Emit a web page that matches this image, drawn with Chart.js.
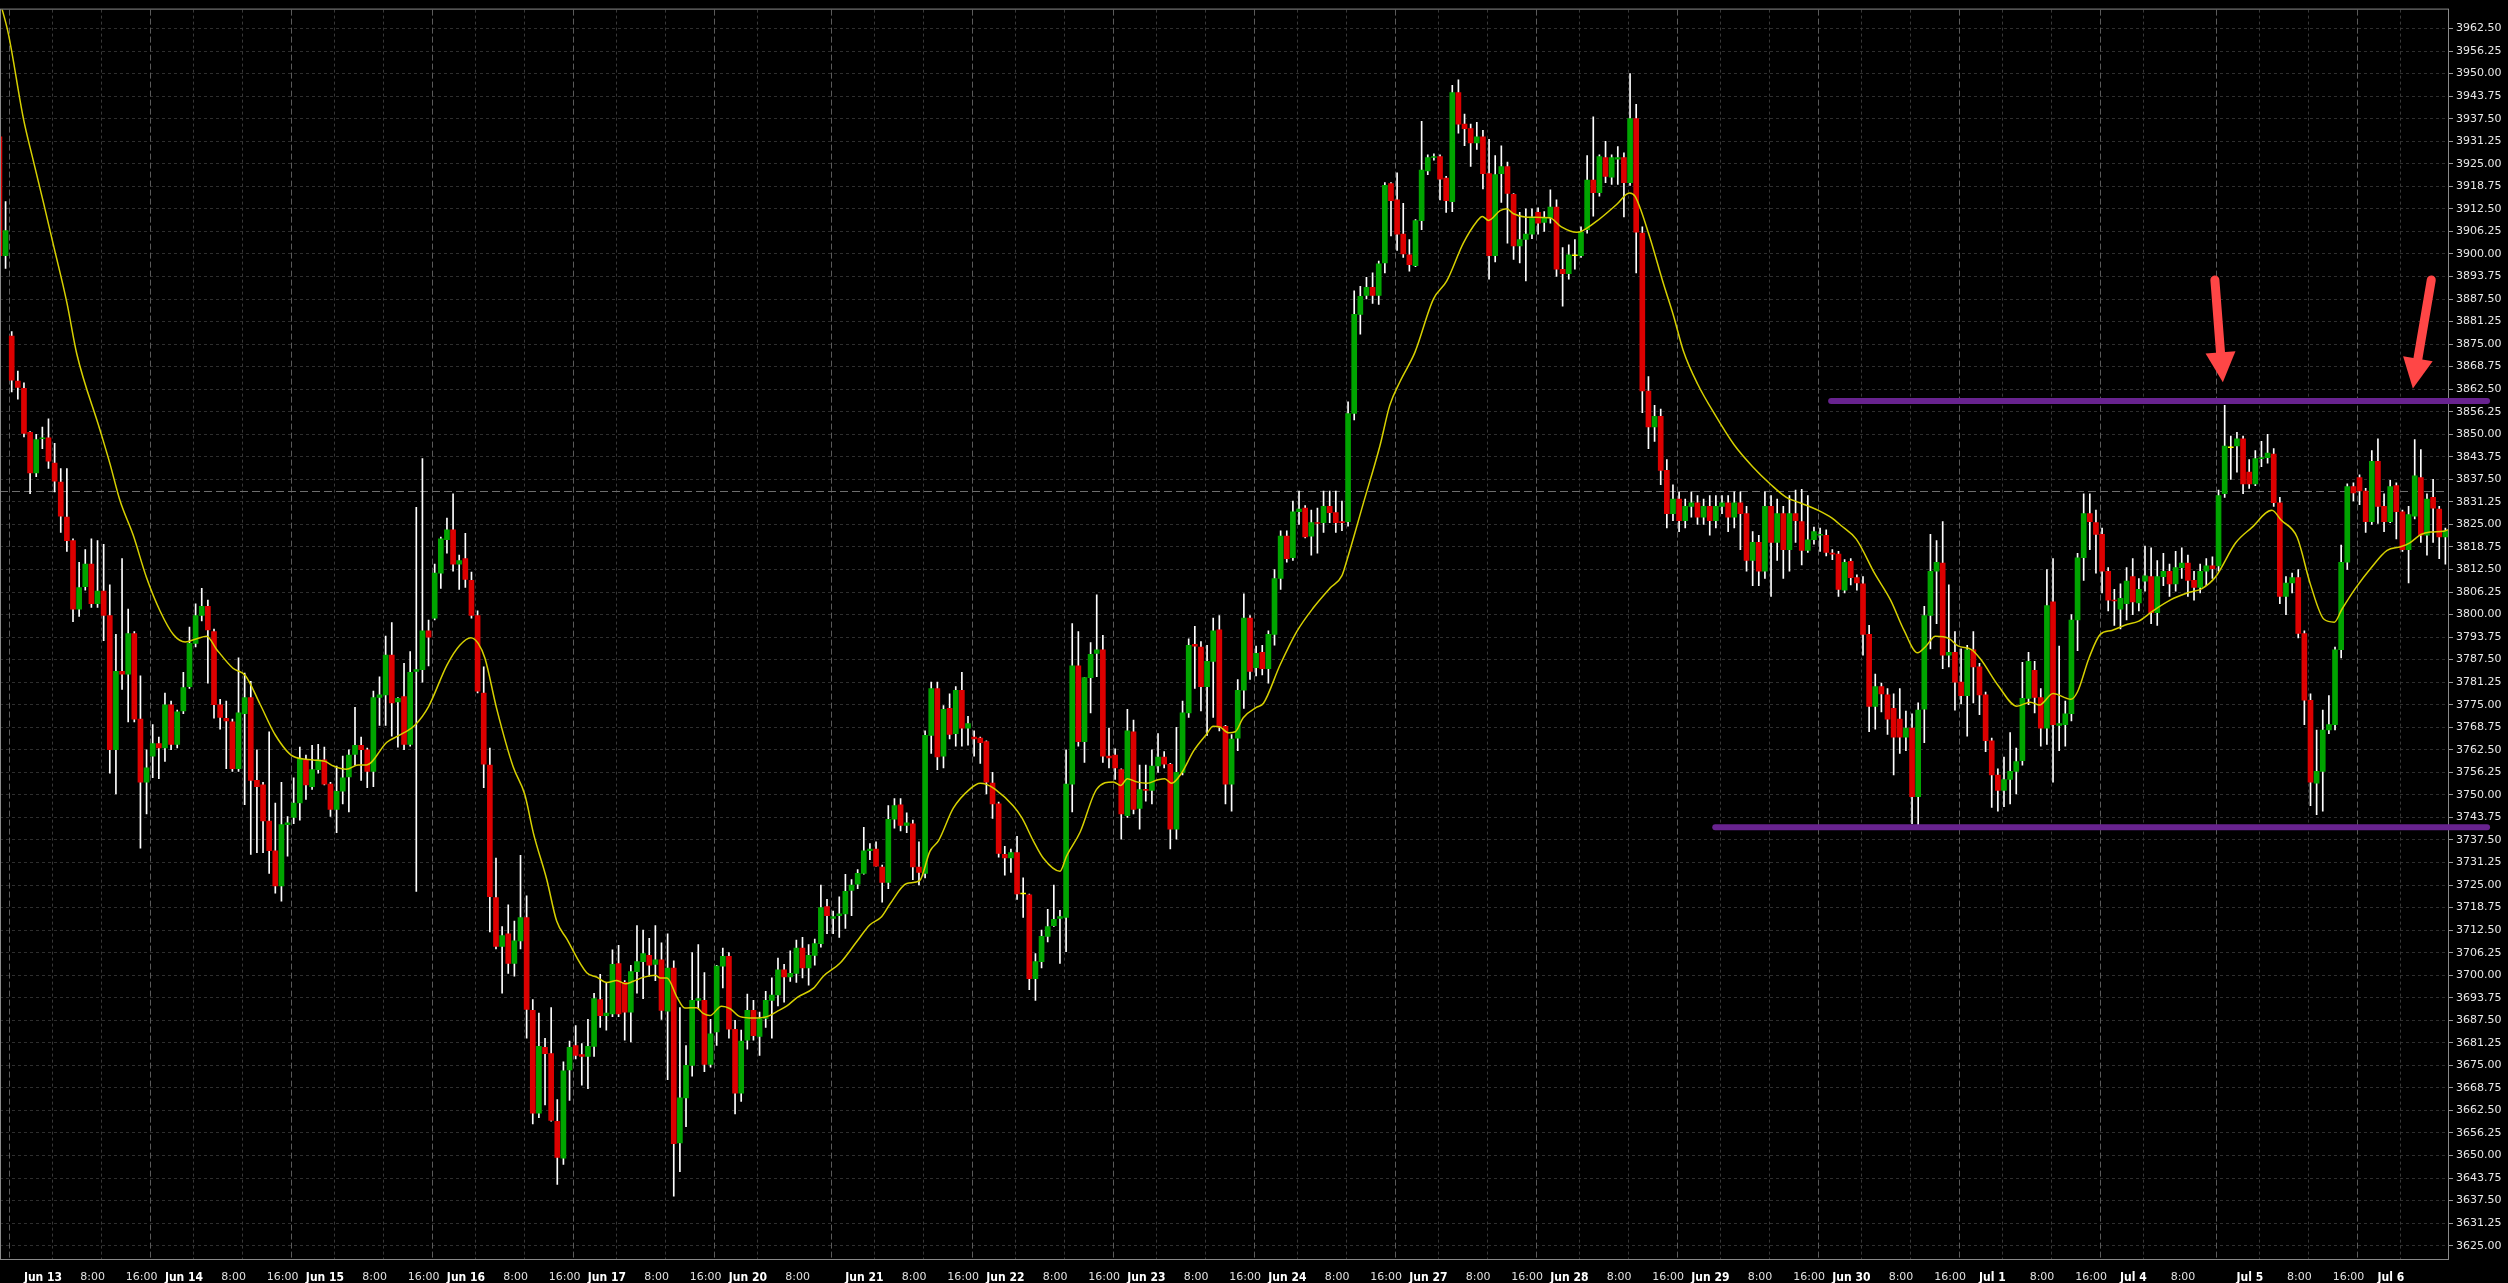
<!DOCTYPE html>
<html>
<head>
<meta charset="utf-8">
<title>ES H1</title>
<script src="https://cdn.jsdelivr.net/npm/chart.js@4.4.1/dist/chart.umd.min.js"></script>
<style>
  html, body { margin: 0; padding: 0; background: #000; }
  #wrap { width: 2508px; height: 1283px; }
</style>
</head>
<body>
<div id="wrap"><canvas id="chart" width="2508" height="1283"></canvas></div>
<script>
// hourly bars, 2 bars of Jun 10 then one session per day
const leadBars = 2;
const sessionNames = ['Jun 13', 'Jun 14', 'Jun 15', 'Jun 16', 'Jun 17', 'Jun 20', 'Jun 21', 'Jun 22', 'Jun 23',
  'Jun 24', 'Jun 27', 'Jun 28', 'Jun 29', 'Jun 30', 'Jul 1', 'Jul 4', 'Jul 5', 'Jul 6'];
const sessionBars = [23, 23, 23, 23, 23, 19, 23, 23, 23, 23, 23, 23, 23, 23, 23, 19, 23, 15];
const hourNames = ['8:00', '16:00'];
const hourOffsets = [7, 15];

// OHLC, one value per bar
const openPrices = [
  3932.5, 3899.5, 3877.25, 3864.75, 3862.75, 3850.5, 3839.25, 3848.75, 3849, 3842,
  3836.75, 3827, 3820.5, 3801.5, 3807.75, 3814, 3803, 3806.5, 3799.75, 3762.5,
  3784.25, 3783.5, 3794.75, 3771, 3753.5, 3760.75, 3764.25, 3763, 3775, 3764,
  3773.25, 3780, 3792, 3799.75, 3802.25, 3795.25, 3775, 3771.25, 3770.25, 3757.25,
  3772.5, 3777, 3754, 3752.75, 3742.75, 3734.5, 3724.75, 3741.75, 3743.75, 3747.75,
  3759.75, 3752.25, 3757, 3759.75, 3753, 3746, 3751, 3755, 3761.25, 3763.75,
  3762.5, 3756.5, 3777, 3777.75, 3788.75, 3775.75, 3777.25, 3764, 3784.25, 3784.75,
  3795.5, 3799, 3811.5, 3820.75, 3823.5, 3814, 3815.5, 3809.5, 3799.75, 3778.25,
  3758.25, 3721.5, 3708, 3711.5, 3703.25, 3709.5, 3716, 3690.25, 3661.75, 3680,
  3678.25, 3659.5, 3649.25, 3673.75, 3680.5, 3678, 3677.5, 3680.25, 3693.25, 3688.75,
  3689.25, 3703.25, 3698, 3689.75, 3701, 3703.75, 3705.5, 3703, 3704.25, 3690,
  3702, 3653.5, 3666, 3675, 3693, 3693, 3675.25, 3684.25, 3702.5, 3705.25,
  3685, 3667.25, 3682, 3690.25, 3683, 3688, 3693, 3694.5, 3701.5, 3699.5,
  3700.5, 3707.5, 3702, 3705.5, 3708.75, 3719, 3715.75, 3716.5, 3717, 3723.5,
  3725.25, 3728.25, 3734.5, 3735, 3730, 3725.75, 3743.25, 3747.25, 3741.5, 3742,
  3730, 3728.25, 3766.5, 3779.5, 3760.75, 3774, 3767, 3779, 3768.5, 3766,
  3765.75, 3764.75, 3753.25, 3747.5, 3733.5, 3732.5, 3734, 3722.5, 3722.25, 3699,
  3703.75, 3710.75, 3713.75, 3715.75, 3716, 3753, 3785.75, 3764.75, 3782.5, 3789.25,
  3790.25, 3760.75, 3761, 3757, 3744.25, 3767.5, 3746.25, 3751.5, 3751.25, 3758,
  3760.5, 3758.5, 3740.5, 3756.25, 3772.75, 3791.75, 3791, 3780, 3787, 3795.75,
  3769, 3753, 3765.75, 3779, 3799, 3785.25, 3789.5, 3785, 3794.5, 3810,
  3821.75, 3815.75, 3828.5, 3829.5, 3821.75, 3825.5, 3825.5, 3830, 3828.25, 3825.75,
  3825.75, 3855.75, 3883.25, 3888.5, 3890.75, 3888.5, 3897.5, 3919.5, 3915, 3905.5,
  3899.75, 3896.75, 3909.25, 3923, 3926.75, 3927, 3921, 3914.5, 3944.75, 3936,
  3934.75, 3930.75, 3932.5, 3922.25, 3899.5, 3922.25, 3924.25, 3916.5, 3902.25, 3904,
  3905.5, 3911.5, 3908.75, 3910, 3913, 3895.75, 3894.5, 3899.5, 3899.5, 3906.75,
  3920.5, 3917, 3926.75, 3921.25, 3926.25, 3926.75, 3919.75, 3937.5, 3905.75, 3862,
  3852, 3855, 3840, 3828, 3832, 3826, 3830, 3831, 3827, 3830,
  3826, 3830, 3831, 3827, 3831, 3828, 3815, 3820, 3812, 3830,
  3820, 3828, 3818, 3828, 3825.75, 3817.75, 3820.75, 3822, 3822, 3817,
  3816.75, 3806.75, 3814.75, 3810.25, 3808.5, 3794.5, 3774.5, 3780, 3777.75, 3774,
  3771, 3766, 3768.5, 3749.5, 3773.75, 3799.75, 3812, 3814.25, 3788.75, 3789.5,
  3781.25, 3777.5, 3790.25, 3785.5, 3777.75, 3765, 3755.5, 3751.25, 3754.25, 3756.5,
  3759.5, 3776.75, 3784.5, 3777, 3768.5, 3803.5, 3769.25, 3769.5, 3772.5, 3798.5,
  3815.75, 3828, 3825.5, 3822.25, 3812, 3804, 3801.5, 3803, 3810.5, 3803.25,
  3809.25, 3810.5, 3800.5, 3810.5, 3812, 3808.5, 3813, 3814.25, 3809.5, 3807.5,
  3812, 3813.5, 3813.5, 3833.5, 3846.25, 3846.75, 3848.75, 3839.5, 3836.25, 3843.25,
  3843.5, 3844.5, 3831, 3805, 3808.75, 3810.25, 3794.75, 3776.25, 3753.25, 3756.5,
  3768, 3769.5, 3790.25, 3814.5, 3835.5, 3838, 3834.25, 3825.75, 3842.5, 3830,
  3825.75, 3835.75, 3828.5, 3818, 3827.25, 3838, 3822, 3832.5, 3829.25, 3821.5
];
const highPrices = [
  3934, 3914.5, 3878.5, 3867.5, 3864.25, 3850.75, 3850, 3852, 3854.25, 3847.5,
  3840.5, 3840.5, 3821, 3814.5, 3818, 3821, 3820.5, 3819.5, 3808.25, 3794.5,
  3815.5, 3801.5, 3795.25, 3783, 3762.5, 3769.5, 3766, 3778.25, 3776, 3773.5,
  3784, 3796.5, 3803, 3807.25, 3804, 3796, 3776.5, 3776, 3771, 3788,
  3783.75, 3781.5, 3762.5, 3753.5, 3767.5, 3747.75, 3753.5, 3744, 3754.75, 3763.25,
  3761, 3763.75, 3764, 3763.25, 3753.5, 3758, 3760.75, 3762.5, 3774.25, 3766,
  3763, 3778.75, 3782.75, 3794, 3797.75, 3777, 3786.5, 3789.75, 3829.75, 3843.25,
  3798.5, 3814, 3821.5, 3826.75, 3833.5, 3816.5, 3822.5, 3811.75, 3801, 3785.5,
  3763, 3732.5, 3713.5, 3719.5, 3715, 3733.25, 3722, 3693.25, 3689.5, 3682.5,
  3691, 3665.5, 3676, 3681.75, 3686, 3681, 3687.75, 3695, 3700.25, 3697.75,
  3707, 3708.25, 3698.5, 3702.75, 3713.75, 3712.5, 3710.25, 3713.75, 3709, 3711.5,
  3704, 3691, 3680.5, 3706.25, 3708.5, 3700.75, 3687.75, 3702.75, 3707.5, 3706.25,
  3687.5, 3684.75, 3694.75, 3693, 3689.75, 3695.5, 3699.25, 3704.75, 3703, 3706.75,
  3709.75, 3710.5, 3708.5, 3710, 3725, 3721, 3717.75, 3721.75, 3728, 3726.5,
  3729.25, 3741, 3736.5, 3737, 3730.5, 3747, 3749, 3749, 3745, 3743,
  3737, 3767.75, 3781.25, 3781.25, 3774.75, 3778, 3780, 3784, 3771.75, 3767.75,
  3766, 3765, 3756.25, 3748, 3735.75, 3735, 3738.5, 3727, 3722.5, 3706,
  3712.5, 3718.25, 3725, 3718, 3762.5, 3797.5, 3795.25, 3782.5, 3792.25, 3805.5,
  3794.25, 3768.5, 3762.75, 3757.25, 3773.75, 3770.75, 3758.25, 3758.25, 3762.5, 3767,
  3762, 3758.75, 3768.75, 3776, 3793.25, 3796.75, 3792.5, 3791.5, 3799, 3799.75,
  3769.25, 3766.75, 3782, 3805.75, 3799.75, 3791.25, 3791.5, 3795.5, 3812.5, 3823.25,
  3823.25, 3831.5, 3834.25, 3830.25, 3829, 3829.5, 3834.25, 3834.25, 3834.25, 3831.5,
  3859, 3889.75, 3891, 3893.5, 3894.75, 3898, 3919.75, 3919.75, 3922.5, 3914,
  3904, 3909.5, 3936.75, 3927.5, 3927.75, 3927.5, 3921.5, 3946.75, 3948.25, 3938.75,
  3936, 3936.5, 3934.25, 3931.75, 3927.25, 3930, 3925.5, 3916.75, 3911.5, 3912.5,
  3912.5, 3912.75, 3911.75, 3917.75, 3915, 3901.75, 3902.5, 3904, 3907.5, 3927.25,
  3938, 3927.5, 3931.25, 3927.5, 3929.75, 3928, 3950, 3941.5, 3907.5, 3866,
  3858, 3857, 3843, 3836, 3834, 3832, 3834, 3833, 3832, 3833,
  3833, 3833, 3833, 3834, 3834, 3830, 3823, 3822, 3834, 3833,
  3832, 3830, 3833, 3834.5, 3834.75, 3833, 3824.25, 3824, 3823.5, 3818,
  3817.5, 3815.25, 3815.5, 3811, 3810.5, 3797, 3783.5, 3781, 3779.5, 3778,
  3779.5, 3773.25, 3772.5, 3775.5, 3802.25, 3822.25, 3820.5, 3825.75, 3808.25, 3795.25,
  3790.5, 3791.5, 3795.25, 3786.5, 3778.5, 3765.75, 3757.25, 3760.5, 3767.25, 3763,
  3786.75, 3789.5, 3787, 3779.5, 3812.5, 3815.5, 3791.25, 3776, 3800, 3817,
  3833.5, 3833.5, 3829, 3824, 3813, 3807, 3808.5, 3813, 3815.5, 3810,
  3819, 3818.5, 3815, 3817, 3814, 3817.5, 3818.5, 3816.5, 3812, 3814,
  3815.5, 3816, 3834.5, 3858, 3849.5, 3850.5, 3849.5, 3843, 3845.5, 3848,
  3850, 3846, 3832.5, 3810.5, 3811.5, 3812.5, 3795.5, 3778, 3768, 3773.5,
  3777.5, 3791, 3819.25, 3836.25, 3836.5, 3838.75, 3835, 3845.5, 3848.75, 3833.5,
  3837.25, 3836.5, 3829, 3830, 3848.5, 3845.75, 3833.5, 3837.5, 3830, 3824
];
const lowPrices = [
  3898, 3896, 3861.75, 3859.75, 3849.25, 3833.5, 3838.25, 3846, 3840.5, 3834,
  3822.75, 3817.5, 3798, 3799.5, 3806.75, 3802, 3802, 3792.75, 3756, 3750.25,
  3779.25, 3770.25, 3770.25, 3735.25, 3744.75, 3754.75, 3754.5, 3759.25, 3762.5, 3763,
  3772.5, 3779.5, 3791, 3798.25, 3781, 3771.25, 3768.25, 3757.25, 3756.5, 3756.5,
  3747.25, 3733.5, 3734, 3734, 3728.25, 3722.75, 3720.5, 3733, 3742, 3743,
  3748.75, 3751.5, 3756, 3752.75, 3744, 3739.5, 3747.5, 3745.25, 3758.25, 3754,
  3752, 3752.25, 3769.25, 3769.25, 3766.25, 3763.25, 3762.5, 3763.5, 3723.25, 3781.25,
  3785.75, 3798.5, 3807.25, 3817, 3812, 3807, 3807.5, 3799, 3778.25, 3752,
  3712, 3707.25, 3695, 3700.5, 3699.75, 3707.25, 3682.5, 3658.75, 3660.5, 3664,
  3659.5, 3642, 3647.5, 3665.25, 3676.75, 3669.5, 3668.5, 3677.5, 3685.5, 3684.75,
  3688.5, 3688.5, 3682, 3681.5, 3695, 3693.5, 3699.75, 3698.5, 3687.75, 3671,
  3638.75, 3645.5, 3658, 3672, 3690.75, 3673.25, 3674.5, 3680.5, 3696.5, 3682.5,
  3661.5, 3665, 3679.5, 3682, 3677.75, 3685.5, 3682.5, 3691.5, 3692.5, 3698.25,
  3698, 3699.25, 3697.25, 3702.75, 3707.75, 3711.5, 3711.5, 3710.5, 3713, 3716.5,
  3724, 3728, 3732, 3730.25, 3720.25, 3724, 3740.75, 3740, 3739.5, 3726.5,
  3725, 3727, 3761.5, 3757, 3757.5, 3765.5, 3763.5, 3763.5, 3763.75, 3760.75,
  3758.75, 3750.25, 3743.5, 3732.75, 3727.75, 3728.5, 3721, 3716, 3696, 3693,
  3702, 3709.25, 3713.5, 3703.25, 3706.5, 3745.25, 3763.5, 3759, 3772.75, 3782.75,
  3759, 3757.5, 3754.25, 3737.75, 3743.75, 3744.75, 3740.5, 3748.25, 3747.5, 3756.25,
  3757.5, 3735, 3737.75, 3755.5, 3771.5, 3779.5, 3773.25, 3766.5, 3771.5, 3767.75,
  3747.5, 3745.5, 3762.25, 3774, 3782, 3783, 3783.25, 3781, 3791.5, 3807,
  3814.5, 3815, 3825, 3821.25, 3816.5, 3817, 3822.75, 3825.5, 3822.75, 3823.25,
  3824.5, 3854, 3877.75, 3887.5, 3886.25, 3886, 3894.75, 3905, 3901, 3899,
  3895.25, 3896.5, 3906.75, 3922, 3926, 3915, 3911.5, 3911.75, 3933.5, 3930,
  3924.25, 3929, 3918, 3893, 3897.75, 3914.25, 3903, 3898.5, 3897.5, 3892.5,
  3904.25, 3905.5, 3906.25, 3908.5, 3893.75, 3885.5, 3893, 3895.75, 3899, 3905.75,
  3910.5, 3916, 3919.75, 3919.25, 3919.25, 3910.25, 3919, 3894.75, 3856, 3846,
  3848, 3836, 3824, 3826, 3823, 3824, 3827, 3825, 3825, 3822,
  3824, 3828, 3823, 3824, 3818, 3812, 3808, 3808, 3810, 3805,
  3815, 3810, 3812, 3820, 3813.75, 3817.25, 3819.5, 3817.5, 3816.25, 3815.25,
  3805, 3806, 3808.25, 3806.75, 3788.75, 3767.5, 3768.25, 3773, 3766.75, 3755.5,
  3761.5, 3762.25, 3742, 3741, 3764.5, 3790.5, 3797.5, 3785, 3785.5, 3773.5,
  3775.25, 3766.25, 3775.5, 3772.25, 3762, 3746.5, 3745.5, 3746.75, 3747.5, 3750.25,
  3758.25, 3775, 3772.75, 3763.5, 3764, 3753.5, 3762.25, 3763.5, 3770.5, 3790,
  3809.5, 3818, 3811.5, 3806, 3801, 3797, 3796, 3798.5, 3800, 3801,
  3806.5, 3797.5, 3797, 3808, 3805, 3806.5, 3810, 3805, 3804, 3806,
  3808, 3810, 3812, 3832.5, 3837.5, 3839.5, 3833.5, 3835, 3835.75, 3841,
  3842, 3830, 3803, 3800, 3806, 3793.5, 3769.5, 3747, 3744.5, 3745.5,
  3767, 3768, 3788, 3812.5, 3831.5, 3830.5, 3822.75, 3825, 3825.25, 3823,
  3825.5, 3821, 3817.5, 3808.75, 3826.5, 3820, 3816.5, 3820, 3815.5, 3814
];
const closePrices = [
  3899.5, 3906.5, 3865, 3863, 3850.25, 3839.25, 3848.5, 3849, 3842.5, 3837,
  3827.25, 3820.5, 3801.5, 3807.5, 3814, 3803, 3806.5, 3799.75, 3762.5, 3784.25,
  3783.5, 3794.75, 3771, 3753.5, 3757.5, 3764.25, 3763, 3775, 3764, 3773,
  3779.75, 3792, 3799.75, 3802.25, 3795.75, 3775, 3771.5, 3770.5, 3757.25, 3772.75,
  3777, 3754, 3752.25, 3742.75, 3734.5, 3724.75, 3741.75, 3742.25, 3747.75, 3760,
  3752.75, 3757, 3759.75, 3753, 3746, 3751, 3754.75, 3761, 3763.75, 3762.5,
  3756.5, 3777, 3777.75, 3788.75, 3775.5, 3776.75, 3764, 3784, 3784.75, 3795.5,
  3793.75, 3811.5, 3821, 3823.5, 3814, 3815, 3809.75, 3799.75, 3778.75, 3758.5,
  3721.75, 3708, 3711, 3703.25, 3709.5, 3716, 3690.5, 3661.75, 3680.25, 3678.25,
  3659.75, 3649.5, 3673.5, 3680, 3677.75, 3677.5, 3680.25, 3693.5, 3688.75, 3689.5,
  3703, 3689.25, 3689.75, 3701, 3703.75, 3706, 3702.75, 3704.25, 3690.25, 3702,
  3653.25, 3666, 3675, 3693, 3693.5, 3675.25, 3683.75, 3702.5, 3705.25, 3685,
  3667.25, 3681.75, 3690.25, 3683.25, 3688, 3693, 3694.5, 3701.5, 3699.5, 3700.5,
  3707.5, 3702, 3705.5, 3708.75, 3718.75, 3716.5, 3716.25, 3717, 3723.25, 3725,
  3728.25, 3734.5, 3735, 3730.25, 3725.75, 3743.25, 3747, 3741.5, 3742.25, 3730,
  3728.5, 3766.5, 3779.5, 3760.5, 3773.75, 3766.75, 3779, 3768.5, 3769.75, 3765.5,
  3764.5, 3753.5, 3747.5, 3733.75, 3732.5, 3734, 3722.5, 3722.5, 3699, 3703.75,
  3710.75, 3713.5, 3715.5, 3716.25, 3753, 3785.75, 3764.75, 3782.5, 3789, 3790.25,
  3760.75, 3760.25, 3757.5, 3744.75, 3767.75, 3746, 3751.5, 3751.25, 3758, 3760.5,
  3758.5, 3740.5, 3756.25, 3772.75, 3791.5, 3791.25, 3780, 3787, 3795.5, 3768.75,
  3753, 3765.5, 3779, 3799, 3784.25, 3789.25, 3785, 3794.5, 3810, 3821.75,
  3815.5, 3828.5, 3829.25, 3821.5, 3825.5, 3825.25, 3830, 3828.25, 3825.5, 3825.5,
  3855.75, 3883.25, 3888.25, 3890.75, 3888.5, 3897.25, 3919, 3914.75, 3905.5, 3900,
  3897, 3909.25, 3923.25, 3926.75, 3927, 3920.75, 3914.75, 3944.75, 3936, 3934.75,
  3930.75, 3932.5, 3922.25, 3899.5, 3922, 3924.25, 3916.75, 3902.25, 3904, 3905.5,
  3910.25, 3908.5, 3910, 3913, 3895.75, 3894.5, 3899.75, 3899.5, 3906, 3920.5,
  3917, 3927, 3921.5, 3926.75, 3926.75, 3919.75, 3937.5, 3906, 3862, 3852,
  3855, 3840, 3828, 3832, 3826, 3830, 3831, 3827, 3830, 3826,
  3830, 3831, 3827, 3831, 3828, 3815, 3820, 3812, 3830, 3820,
  3828, 3818, 3828, 3826, 3817.75, 3820.75, 3823, 3822.25, 3817.25, 3816.75,
  3807, 3814.5, 3810.25, 3808.75, 3794.5, 3774.5, 3780, 3778, 3771, 3766,
  3766, 3768.5, 3749.5, 3773.5, 3799.75, 3812, 3814.5, 3788.75, 3789.5, 3781.25,
  3777.5, 3790.25, 3785.5, 3777.75, 3765, 3755.5, 3751.25, 3754.25, 3756.5, 3759.25,
  3776.75, 3787, 3777, 3768.5, 3802.5, 3769.5, 3769.75, 3772.5, 3798.5, 3815.75,
  3828, 3825.75, 3822.25, 3812, 3804, 3803.75, 3804.5, 3809.25, 3803.5, 3807,
  3810.75, 3800.5, 3810.5, 3812, 3808.5, 3813, 3814.25, 3809.5, 3807.5, 3812,
  3813.5, 3812.75, 3833, 3846.75, 3846.25, 3848.75, 3836.25, 3836.25, 3843.25, 3843.5,
  3844.75, 3831, 3805, 3808.75, 3810.25, 3794.75, 3776.25, 3753.5, 3756.5, 3768,
  3769.5, 3790.25, 3814.5, 3835.5, 3833.75, 3834.25, 3825.75, 3842.5, 3830, 3825.75,
  3835.5, 3828.5, 3818, 3827.75, 3838.5, 3822, 3832, 3829.5, 3821.5, 3823.25
];

// moving average: bar position, price
const maBars = [
  0, 1.45, 3.9, 5.5, 7.2, 8.8, 11, 12.6, 16.4, 18, 19.7, 21.8, 24, 26.2, 28.4, 30.3, 32.2, 33.8, 35.4, 38.1,
  40.1, 42.5, 45, 47.9, 51.2, 53.1, 54.5, 56.6, 58.5, 59.9, 63.2, 65.1, 67.8, 70, 73, 75.1, 76.9, 78.1, 79.2, 81.1,
  83.8, 85.7, 87.1, 89.3, 90.9, 92.5, 95.8, 97.4, 99.1, 100.7, 102.1, 103.4, 105, 107, 107.8, 108.9, 110.5, 111.8, 113.7, 114.8,
  115.9, 117.8, 119.2, 120.8, 123, 125.2, 126.8, 128.4, 130.1, 132.8, 134.4, 137.1, 139.8, 142, 143.9, 145.3, 148, 150.1, 151.8, 153.2,
  155.6, 158.3, 160, 161, 162.4, 165.4, 166.8, 168.7, 170.3, 173, 174.1, 176.3, 179, 181.7, 182.9, 184, 185.5, 187.2, 189, 190.1,
  191.2, 192.9, 194.8, 196.9, 198, 199.1, 200.5, 201.6, 202.9, 205.1, 206.2, 208.9, 211.6, 214.3, 217.1, 219, 219.8, 222.5, 225.2, 226.8,
  228.5, 230.9, 233.9, 236.1, 238.8, 241, 241.9, 242.9, 244.8, 245.9, 246.9, 249.1, 252.9, 254.8, 257.3, 258.1, 260.5, 263.8, 265.9, 266.8,
  269, 271.4, 273.1, 274.7, 277, 280, 283, 286, 289, 291.5, 293.7, 296.7, 298.9, 300.4, 302.9, 305.9, 308.5, 310.7, 312.9, 314.3,
  315.8, 318, 319.5, 321.7, 323.2, 326.1, 329.1, 331.3, 332.8, 335, 337.9, 339, 340.9, 342.7, 344.6, 346.8, 349, 351.2, 354.1, 357.1,
  359.3, 361.5, 364.8, 367.4, 370.7, 372.2, 374.8, 377, 379.2, 380.9, 382.1, 384.3, 386.9, 389.5, 391.7, 393.2, 395, 396.5, 398.7, 399.4
];
const maValues = [
  3970.5, 3961.1, 3937.6, 3926, 3914.1, 3902.5, 3886.5, 3872.4, 3851.2, 3842, 3831.4, 3822.1, 3810.2, 3801, 3794.4, 3792.4, 3793.3, 3794, 3790.4, 3785.1,
  3783.1, 3775.2, 3766.6, 3760.7, 3759.7, 3759.3, 3758, 3757.1, 3758.3, 3758.3, 3764.6, 3766.4, 3769.4, 3774.5, 3786, 3791.5, 3793.6, 3792, 3787.9, 3774,
  3757.8, 3750.1, 3739.4, 3726.4, 3715, 3710.2, 3700.7, 3699.5, 3698, 3698.5, 3697.6, 3698.3, 3699.4, 3700, 3699.2, 3699.2, 3694, 3690.9, 3691, 3689.4,
  3688.8, 3691.4, 3690.7, 3688.5, 3688.1, 3688.5, 3689.9, 3691.4, 3693.8, 3696.4, 3699.7, 3703.3, 3709.2, 3714, 3716.2, 3719.8, 3725.4, 3726.2, 3734.4, 3737.3,
  3746.3, 3751.6, 3753.2, 3752.9, 3751.6, 3746.9, 3743.6, 3737.1, 3732.4, 3728.8, 3733.1, 3739.7, 3751.6, 3753.6, 3752.6, 3754.5, 3753.6, 3753.2, 3754.2, 3754.5,
  3753.2, 3756.2, 3762.2, 3766.8, 3769, 3768.8, 3767.2, 3767.5, 3771.4, 3774.3, 3775.4, 3786, 3795.2, 3801.8, 3807.4, 3810.8, 3815, 3830.9, 3846.8, 3858,
  3864.7, 3872.7, 3887.4, 3892.5, 3903, 3909, 3910.4, 3909.3, 3912, 3912.5, 3911.2, 3910.2, 3910, 3907.5, 3906, 3906.3, 3909, 3913.7, 3916.9, 3916,
  3905.8, 3892, 3882.8, 3873.1, 3864, 3855, 3847, 3841, 3836, 3832.5, 3831, 3828.9, 3826.8, 3824.7, 3820.9, 3811.4, 3804, 3795.6, 3789.4, 3791.3,
  3794, 3793.4, 3791.3, 3790.3, 3787.6, 3780.2, 3774.6, 3775.7, 3774.9, 3778.1, 3776.5, 3778.6, 3788.1, 3794.5, 3795.6, 3797.1, 3798.2, 3800.9, 3804, 3806.1,
  3807.2, 3810.4, 3819.9, 3824.1, 3828.9, 3826.2, 3821.5, 3808.3, 3798.7, 3797.9, 3801.4, 3807.2, 3813, 3817.8, 3818.8, 3819.9, 3822.2, 3822.9, 3823.1, 3823.5
];

// drawn objects: horizontal levels and arrows, in bar / price units
const levelLines = [
  { fromBar: 298.8, toBar: 405.8, price: 3859.2 },
  { fromBar: 279.9, toBar: 405.8, price: 3741.0 }
];
const arrowMarks = [
  { fromBar: 361.4, fromPrice: 3892.8, toBar: 362.7, toPrice: 3864.4 },
  { fromBar: 396.7, fromPrice: 3892.8, toBar: 393.7, toPrice: 3862.7 }
];
const lastPriceLine = 3834.25;

const yTickFirst = 3625, yTickStep = 6.25, yTickLast = 3962.5;

// ---- derived ----
const X_MIN = 0.09, X_MAX = 399.43;
const Y_MIN = 3621.3, Y_MAX = 3967.75;

const gridMarks = [];   // vertical grid lines
const timeLabels = [];  // x axis text
let start = leadBars;
sessionNames.forEach((name, s) => {
  const len = sessionBars[s];
  gridMarks.push({ value: start - 0.4, major: true });
  timeLabels.push({ pos: start + 5.1, text: name, major: true });
  hourOffsets.forEach((off, h) => {
    if (off <= len - 8) {
      gridMarks.push({ value: start + off - 0.4, major: false });
      const p = start + off + 6.2;
      if (p < 396) timeLabels.push({ pos: p, text: hourNames[h], major: false });
    }
  });
  start += len;
});

const yTicks = [];
for (let v = yTickFirst; v <= yTickLast + 0.001; v += yTickStep) yTicks.push(v);

const BULL = '#00a400', BEAR = '#dc0000', DOJI = '#ffff00';
const bodyData = openPrices.map((o, i) => ({ x: i, y: [o, closePrices[i]] }));
const wickData = lowPrices.map((l, i) => ({ x: i, y: [l, highPrices[i]] }));
const bodyColors = openPrices.map((o, i) => closePrices[i] > o ? BULL : (closePrices[i] < o ? BEAR : DOJI));
const maData = maBars.map((b, i) => ({ x: b, y: maValues[i] }));

const overlays = {
  id: 'overlays',
  beforeDatasetsDraw(chart) {
    const { ctx, chartArea: a, scales: { x, y } } = chart;
    ctx.save();
    ctx.beginPath();
    ctx.rect(a.left, a.top, a.right - a.left, a.bottom - a.top);
    ctx.clip();
    ctx.lineWidth = 1;
    gridMarks.forEach(m => {
      const px = Math.round(x.getPixelForValue(m.value)) + 0.5;
      ctx.strokeStyle = m.major ? '#5a5a5a' : '#383838';
      ctx.setLineDash(m.major ? [6, 3] : [3, 3]);
      ctx.beginPath();
      ctx.moveTo(px, a.top);
      ctx.lineTo(px, a.bottom);
      ctx.stroke();
    });
    const ly = Math.round(y.getPixelForValue(lastPriceLine)) + 0.5;
    ctx.strokeStyle = '#6e6e6e';
    ctx.setLineDash([8, 4]);
    ctx.beginPath();
    ctx.moveTo(a.left, ly);
    ctx.lineTo(a.right, ly);
    ctx.stroke();
    ctx.restore();
  },
  afterDatasetsDraw(chart) {
    const { ctx, chartArea: a, scales: { x, y } } = chart;
    ctx.save();
    // frame
    ctx.strokeStyle = '#8a8a8a';
    ctx.lineWidth = 1;
    ctx.setLineDash([]);
    ctx.strokeRect(a.left + 0.5, a.top - 0.5, a.right - a.left, a.bottom - a.top + 1);

    // purple levels
    ctx.strokeStyle = '#68238f';
    ctx.lineWidth = 6;
    ctx.lineCap = 'round';
    levelLines.forEach(l => {
      const py = y.getPixelForValue(l.price);
      ctx.beginPath();
      ctx.moveTo(x.getPixelForValue(l.fromBar), py);
      ctx.lineTo(x.getPixelForValue(l.toBar), py);
      ctx.stroke();
    });

    // red arrows
    ctx.strokeStyle = '#ff4646';
    ctx.fillStyle = '#ff4646';
    arrowMarks.forEach(m => {
      const x0 = x.getPixelForValue(m.fromBar), y0 = y.getPixelForValue(m.fromPrice);
      const x1 = x.getPixelForValue(m.toBar), y1 = y.getPixelForValue(m.toPrice);
      const ang = Math.atan2(y1 - y0, x1 - x0);
      const headLen = 30, headHalf = 15;
      const bx = x1 - headLen * Math.cos(ang), by = y1 - headLen * Math.sin(ang);
      ctx.lineWidth = 9;
      ctx.beginPath();
      ctx.moveTo(x0, y0);
      ctx.lineTo(bx, by);
      ctx.stroke();
      ctx.beginPath();
      ctx.moveTo(x1, y1);
      ctx.lineTo(bx + headHalf * Math.sin(ang), by - headHalf * Math.cos(ang));
      ctx.lineTo(bx - headHalf * Math.sin(ang), by + headHalf * Math.cos(ang));
      ctx.closePath();
      ctx.fill();
    });
    ctx.restore();
  }
};

new Chart(document.getElementById('chart'), {
  type: 'bar',
  data: {
    datasets: [
      {
        type: 'line', label: 'MA', data: maData,
        borderColor: '#d6d000', borderWidth: 1.5, pointRadius: 0,
        cubicInterpolationMode: 'monotone', order: 0
      },
      {
        label: 'body', data: bodyData, backgroundColor: bodyColors,
        barThickness: 5, grouped: false, minBarLength: 1, order: 1
      },
      {
        label: 'wick', data: wickData, backgroundColor: '#ffffff',
        barThickness: 1, grouped: false, order: 2
      }
    ]
  },
  options: {
    responsive: false,
    animation: false,
    devicePixelRatio: 1,
    layout: { padding: { top: 6, left: 0, right: 0, bottom: 0 } },
    plugins: { legend: { display: false }, tooltip: { enabled: false } },
    scales: {
      x: {
        type: 'linear', min: X_MIN, max: X_MAX, offset: false,
        grid: { display: false },
        border: { display: false },
        afterBuildTicks: s => { s.ticks = timeLabels.map(t => ({ value: t.pos })); },
        afterFit: s => { s.height = 24; },
        ticks: {
          autoSkip: false, maxRotation: 0, minRotation: 0, padding: 4,
          color: ctx => (timeLabels[ctx.index] && timeLabels[ctx.index].major) ? '#ffffff' : '#e0e0e0',
          font: ctx => (timeLabels[ctx.index] && timeLabels[ctx.index].major)
            ? { family: 'DejaVu Sans Condensed', size: 12, weight: 'bold' }
            : { family: 'DejaVu Sans', size: 11 },
          callback: (v, i) => timeLabels[i] ? timeLabels[i].text : ''
        }
      },
      y: {
        position: 'right', min: Y_MIN, max: Y_MAX,
        afterBuildTicks: s => { s.ticks = yTicks.map(v => ({ value: v })); },
        afterFit: s => { s.width = 60; },
        grid: { color: '#2e2e2e', tickColor: '#9a9a9a', tickLength: 5, tickBorderDash: [], drawTicks: true },
        border: { display: false, dash: [3, 3] },
        ticks: {
          autoSkip: false, color: '#e8e8e8', padding: 3,
          font: { family: 'DejaVu Sans', size: 11 },
          callback: v => Number(v).toFixed(2)
        }
      }
    }
  },
  plugins: [overlays]
});
</script>
</body>
</html>
